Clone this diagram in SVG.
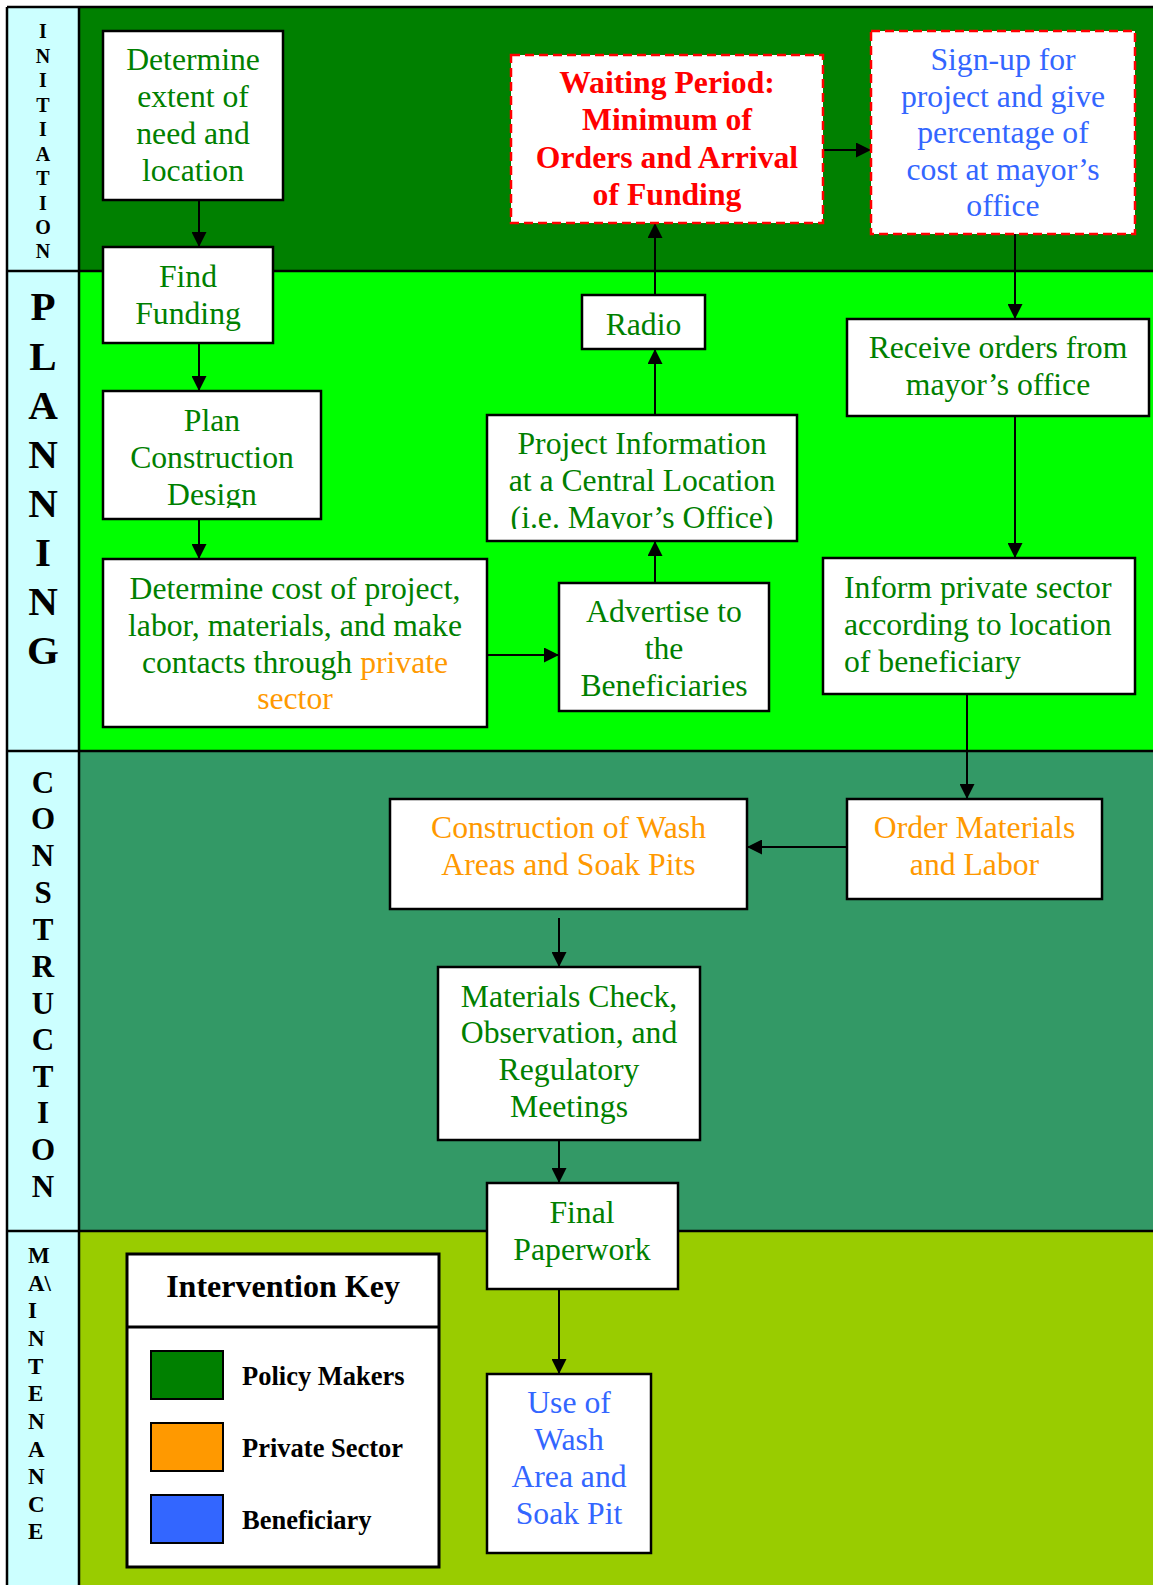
<svg xmlns="http://www.w3.org/2000/svg" width="1153" height="1585" viewBox="0 0 1153 1585">
<style>
.t{font-family:"Liberation Serif","Times New Roman",serif;font-size:31.7px;text-anchor:middle}
.g{fill:#008000}.o{fill:#FF9900}.b{fill:#3366FF}.r{fill:#FF0000;font-weight:bold}
.box{fill:#fff;stroke:#000;stroke-width:2.5}
.dash{fill:#fff;stroke:#FF0000;stroke-width:2.5;stroke-dasharray:9 5}
.lbl{font-family:"Liberation Serif","Times New Roman",serif;font-weight:bold;fill:#000;text-anchor:middle}
.ln{stroke:#000;stroke-width:2.5;fill:none}
.c{stroke:#000;stroke-width:2;fill:none;marker-end:url(#ah)}
.kt{font-family:"Liberation Serif","Times New Roman",serif;font-weight:bold;fill:#000}
</style>
<defs>
<marker id="ah" markerUnits="userSpaceOnUse" markerWidth="15" markerHeight="15" refX="15" refY="7.5" orient="auto">
<path d="M0,0 L15,7.5 L0,15 z" fill="#000"/>
</marker>
<clipPath id="clipPlan"><rect x="103" y="391" width="218" height="117"/></clipPath>
<clipPath id="clipProj"><rect x="487" y="415" width="310" height="114"/></clipPath>
</defs>
<g id="bands">
<rect x="7" y="7" width="1160" height="264" fill="#008000"/>
<rect x="7" y="271" width="1160" height="480" fill="#00FF00"/>
<rect x="7" y="751" width="1160" height="480" fill="#339966"/>
<rect x="7" y="1231" width="1160" height="370" fill="#99CC00"/>
<rect x="7" y="7" width="72" height="1594" fill="#CCFFFF"/>
<path class="ln" d="M7,7 H1160 M7,271 H1160 M7,751 H1160 M7,1231 H1160 M7,7 V1600 M79,7 V1600"/>
</g>
<g id="lane-labels">
<text class="lbl" font-size="20"><tspan x="43" y="38">I</tspan><tspan x="43" y="62.5">N</tspan><tspan x="43" y="87">I</tspan><tspan x="43" y="111.5">T</tspan><tspan x="43" y="136">I</tspan><tspan x="43" y="160.5">A</tspan><tspan x="43" y="185">T</tspan><tspan x="43" y="209.5">I</tspan><tspan x="43" y="234">O</tspan><tspan x="43" y="258">N</tspan></text>
<text class="lbl" font-size="41"><tspan x="43" y="320">P</tspan><tspan x="43" y="370">L</tspan><tspan x="43" y="419">A</tspan><tspan x="43" y="468">N</tspan><tspan x="43" y="517">N</tspan><tspan x="43" y="566">I</tspan><tspan x="43" y="615">N</tspan><tspan x="43" y="664">G</tspan></text>
<text class="lbl" font-size="31"><tspan x="43" y="793">C</tspan><tspan x="43" y="829">O</tspan><tspan x="43" y="866">N</tspan><tspan x="43" y="903">S</tspan><tspan x="43" y="940">T</tspan><tspan x="43" y="977">R</tspan><tspan x="43" y="1014">U</tspan><tspan x="43" y="1050">C</tspan><tspan x="43" y="1087">T</tspan><tspan x="43" y="1123">I</tspan><tspan x="43" y="1160">O</tspan><tspan x="43" y="1197">N</tspan></text>
<text class="lbl" font-size="23" style="text-anchor:start"><tspan x="28" y="1263">M</tspan><tspan x="28" y="1291">A\</tspan><tspan x="28" y="1318">I</tspan><tspan x="28" y="1346">N</tspan><tspan x="28" y="1374">T</tspan><tspan x="28" y="1401">E</tspan><tspan x="28" y="1429">N</tspan><tspan x="28" y="1457">A</tspan><tspan x="28" y="1484">N</tspan><tspan x="28" y="1512">C</tspan><tspan x="28" y="1539">E</tspan></text>
</g>
<g id="connectors">
<path class="c" d="M199,200 V247"/>
<path class="c" d="M199,343 V391"/>
<path class="c" d="M199,510 V559"/>
<path class="c" d="M487,655 H559"/>
<path class="c" d="M655,583 V541"/>
<path class="c" d="M655,415 V349"/>
<path class="c" d="M655,295 V223"/>
<path class="c" d="M823,150 H871"/>
<path class="c" d="M1015,223 V319"/>
<path class="c" d="M1015,416 V558"/>
<path class="c" d="M967,678 V799"/>
<path class="c" d="M847,847 H747"/>
<path class="c" d="M559,918 V967"/>
<path class="c" d="M559,1134 V1183"/>
<path class="c" d="M559,1278 V1374"/>
</g>
<g id="n-determine-extent">
<rect class="box" x="103" y="31" width="180" height="169"/>
<text class="t g"><tspan x="193" y="70">Determine</tspan><tspan x="193" y="107">extent of</tspan><tspan x="193" y="144">need and</tspan><tspan x="193" y="181">location</tspan></text>
</g>
<g id="n-find-funding">
<rect class="box" x="103" y="247" width="170" height="96"/>
<text class="t g"><tspan x="188" y="287">Find</tspan><tspan x="188" y="324">Funding</tspan></text>
</g>
<g id="n-plan-design">
<rect class="box" x="103" y="391" width="218" height="128"/>
<text class="t g" clip-path="url(#clipPlan)"><tspan x="212" y="431">Plan</tspan><tspan x="212" y="468">Construction</tspan><tspan x="212" y="505">Design</tspan></text>
</g>
<g id="n-determine-cost">
<rect class="box" x="103" y="559" width="384" height="168"/>
<text class="t g"><tspan x="295" y="599">Determine cost of project,</tspan><tspan x="295" y="636">labor, materials, and make</tspan><tspan x="295" y="673">contacts through <tspan class="o">private</tspan></tspan><tspan class="o" x="295" y="709">sector</tspan></text>
</g>
<g id="n-advertise">
<rect class="box" x="559" y="583" width="210" height="128"/>
<text class="t g"><tspan x="664" y="622">Advertise to</tspan><tspan x="664" y="659">the</tspan><tspan x="664" y="696">Beneficiaries</tspan></text>
</g>
<g id="n-project-info">
<rect class="box" x="487" y="415" width="310" height="126"/>
<text class="t g" clip-path="url(#clipProj)"><tspan x="642" y="454">Project Information</tspan><tspan x="642" y="491">at a Central Location</tspan><tspan x="642" y="528">(i.e. Mayor’s Office)</tspan></text>
</g>
<g id="n-radio">
<rect class="box" x="582" y="295" width="123" height="54"/>
<text class="t g" x="643.5" y="335">Radio</text>
</g>
<g id="n-waiting">
<rect class="dash" x="511" y="55" width="312" height="168"/>
<text class="t r"><tspan x="667" y="93">Waiting Period:</tspan><tspan x="667" y="130">Minimum of</tspan><tspan x="667" y="168">Orders and Arrival</tspan><tspan x="667" y="205">of Funding</tspan></text>
</g>
<g id="n-signup">
<rect class="dash" x="871" y="31" width="264" height="203"/>
<text class="t b"><tspan x="1003" y="70">Sign-up for</tspan><tspan x="1003" y="107">project and give</tspan><tspan x="1003" y="143">percentage of</tspan><tspan x="1003" y="180">cost at mayor’s</tspan><tspan x="1003" y="216">office</tspan></text>
</g>
<g id="n-receive">
<rect class="box" x="847" y="319" width="302" height="97"/>
<text class="t g"><tspan x="998" y="358">Receive orders from</tspan><tspan x="998" y="395">mayor’s office</tspan></text>
</g>
<g id="n-inform">
<rect class="box" x="823" y="558" width="312" height="136"/>
<text class="t g" style="text-anchor:start"><tspan x="844" y="598">Inform private sector</tspan><tspan x="844" y="635">according to location</tspan><tspan x="844" y="672">of beneficiary</tspan></text>
</g>
<g id="n-order">
<rect class="box" x="847" y="799" width="255" height="100"/>
<text class="t o"><tspan x="974.5" y="838">Order Materials</tspan><tspan x="974.5" y="875">and Labor</tspan></text>
</g>
<g id="n-construction">
<rect class="box" x="390" y="799" width="357" height="110"/>
<text class="t o"><tspan x="568.5" y="838">Construction of Wash</tspan><tspan x="568.5" y="875">Areas and Soak Pits</tspan></text>
</g>
<g id="n-materials-check">
<rect class="box" x="438" y="967" width="262" height="173"/>
<text class="t g"><tspan x="569" y="1007">Materials Check,</tspan><tspan x="569" y="1043">Observation, and</tspan><tspan x="569" y="1080">Regulatory</tspan><tspan x="569" y="1117">Meetings</tspan></text>
</g>
<g id="n-final">
<rect class="box" x="487" y="1183" width="191" height="106"/>
<text class="t g"><tspan x="582" y="1223">Final</tspan><tspan x="582" y="1260">Paperwork</tspan></text>
</g>
<g id="n-use">
<rect class="box" x="487" y="1374" width="164" height="179"/>
<text class="t b"><tspan x="569" y="1413">Use of</tspan><tspan x="569" y="1450">Wash</tspan><tspan x="569" y="1487">Area and</tspan><tspan x="569" y="1524">Soak Pit</tspan></text>
</g>
<g id="key">
<rect x="127" y="1254" width="312" height="313" fill="#fff" stroke="#000" stroke-width="3"/>
<line x1="127" y1="1327" x2="439" y2="1327" stroke="#000" stroke-width="3"/>
<text class="kt" font-size="32" x="283" y="1297" text-anchor="middle">Intervention Key</text>
<rect x="151" y="1351" width="72" height="48" fill="#008000" stroke="#000" stroke-width="2"/>
<rect x="151" y="1423" width="72" height="48" fill="#FF9900" stroke="#000" stroke-width="2"/>
<rect x="151" y="1495" width="72" height="48" fill="#3366FF" stroke="#000" stroke-width="2"/>
<text class="kt" font-size="26.5" x="242" y="1385">Policy Makers</text>
<text class="kt" font-size="26.5" x="242" y="1457">Private Sector</text>
<text class="kt" font-size="26.5" x="242" y="1529">Beneficiary</text>
</g>
</svg>
